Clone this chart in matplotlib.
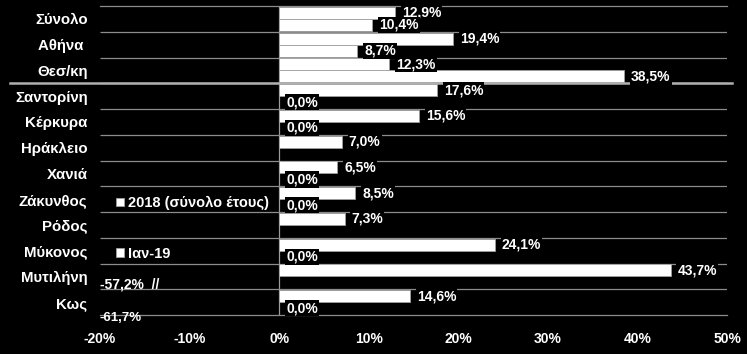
import numpy as np
import matplotlib
matplotlib.use("Agg")
import matplotlib.pyplot as plt
import matplotlib.transforms as mtransforms

plt.rcParams["font.family"] = ["Liberation Sans", "DejaVu Sans"]
plt.rcParams["font.weight"] = "bold"

# data (percent change), top to bottom
cities = ["Σύνολο", "Αθήνα ", "Θεσ/κη", "Σαντορίνη", "Κέρκυρα", "Ηράκλειο",
          "Χανιά", "Ζάκυνθος", "Ρόδος", "Μύκονος", "Μυτιλήνη", "Κως"]
pct_2018 = [12.9, 19.4, 12.3, 17.6, 15.6, 7.0, 6.5, 8.5, 7.3, 24.1, 43.7, 14.6]
pct_jan19 = [10.4, 8.7, 38.5, 0.0, 0.0, np.nan, 0.0, 0.0, np.nan, 0.0, np.nan, 0.0]
# values far below the axis minimum, only written as notes on the left
offscale = [np.nan] * 10 + [-57.2, -61.7]
series_names = ["2018 (σύνολο έτους)", "Ιαν-19"]

x_min, x_max = -20, 50
grid_col = "#8c8c8c"


def fmt(v):
    return f"{v:.1f}%".replace(".", ",")


fig = plt.figure(figsize=(7.47, 3.54), dpi=100, facecolor="black")
ax = fig.add_axes([100 / 747, 1 - 315 / 354, 627 / 747, 309 / 354], facecolor="black")

y = np.arange(len(cities))
h = 0.47
jan = np.array(pct_jan19, dtype=float)

b1 = ax.barh(y - h / 2, pct_2018, height=h, color="white",
             edgecolor="#a0a0a0", linewidth=0.6, label=series_names[0], zorder=3)
b2 = ax.barh(y + h / 2, np.nan_to_num(jan), height=h, color="white",
             edgecolor="#a0a0a0", linewidth=0.6, label=series_names[1], zorder=3)

# data labels
lbl = dict(color="white", fontsize=10, fontweight="bold", ha="left", va="center",
           textcoords="offset points", zorder=5,
           bbox=dict(facecolor="black", edgecolor="none", pad=0.8))
for i, v in enumerate(pct_2018):
    ax.annotate(fmt(v), (v, y[i] - h / 2), xytext=(5, 0), **lbl)
for i, v in enumerate(jan):
    if not np.isnan(v):
        ax.annotate(fmt(v), (v, y[i] + h / 2), xytext=(5, 0), **lbl)

# off-scale notes
note_dy = [0.3, 0.62]
k = 0
for i, v in enumerate(offscale):
    if np.isnan(v):
        continue
    txt = fmt(v) + ("  //" if k == 0 else "")
    ax.text(x_min + 0.05 - 0.15 * k, y[i] + note_dy[k], txt, color="white",
            fontsize=10 if k == 0 else 9.5, fontweight="bold", ha="left", va="center", zorder=5)
    k += 1

# separators between categories
ax.hlines(np.arange(0.5, len(cities) - 1), x_min, x_max, color=grid_col, lw=0.9, zorder=1)
trans = mtransforms.blended_transform_factory(ax.transAxes, ax.transData)
ax.plot([-0.1435, 1.008], [2.5, 2.5], color="#b0b0b0", lw=1.8, transform=trans,
        clip_on=False, zorder=4)
ax.axvline(0, color=grid_col, lw=0.9, zorder=2)

ax.set_xlim(x_min, x_max)
ax.set_ylim(len(cities) - 0.5, -0.5)
ax.set_xticks(range(x_min, x_max + 1, 10))
ax.xaxis.set_major_formatter(lambda v, p: f"{v:.0f}%")
ax.set_yticks(y)
ax.set_yticklabels(cities)
ax.tick_params(axis="x", length=0, pad=12, colors="white", labelsize=10)
ax.tick_params(axis="y", length=0, pad=9, colors="white", labelsize=10.8)

for s in ["left", "right"]:
    ax.spines[s].set_visible(False)
for s in ["top", "bottom"]:
    ax.spines[s].set_color(grid_col)
    ax.spines[s].set_linewidth(0.9)

ax.legend(handles=[b1, b2], loc="upper left", bbox_to_anchor=(116 / 747, 1 - 196 / 354),
          bbox_transform=fig.transFigure, frameon=False, labelcolor="white",
          prop=dict(size=10.5, weight="bold"), handlelength=0.55, handleheight=0.55,
          handletextpad=0.25, labelspacing=2.5, borderpad=0, borderaxespad=0)

fig.savefig("out.png", dpi=100, facecolor="black")
